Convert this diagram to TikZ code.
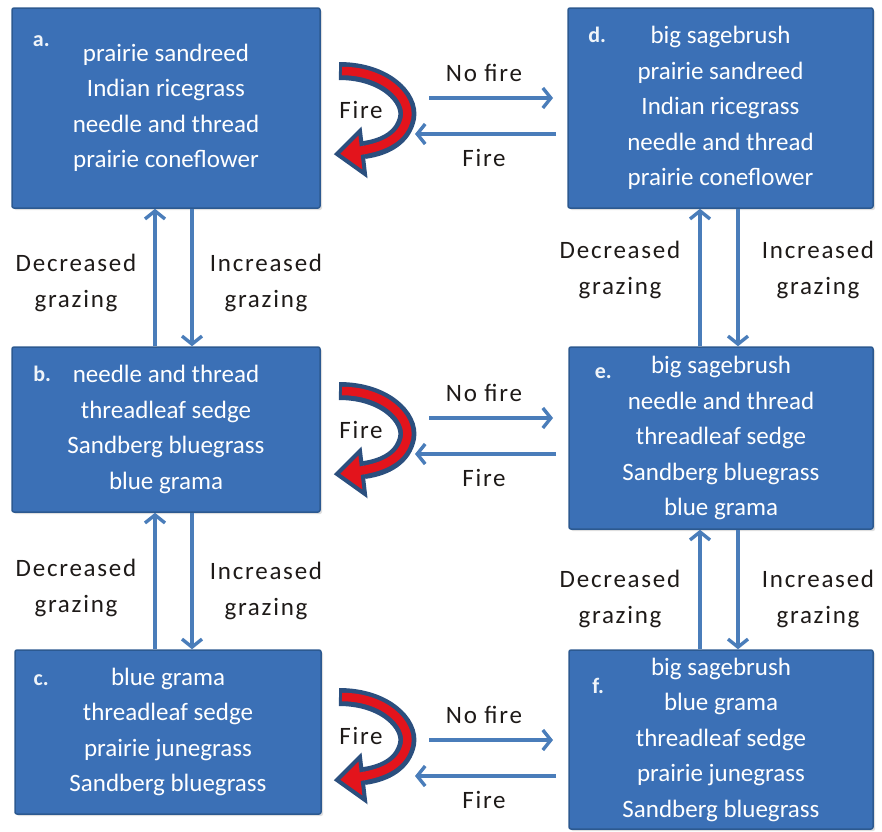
\documentclass[tikz,border=0pt]{standalone}
\usepackage{fontspec}
\setmainfont{Carlito}
\newfontfamily\lblfamily[LetterSpace=7]{Carlito}
\usetikzlibrary{arrows.meta,shadows}

\definecolor{boxblue}{HTML}{3B70B6}
\definecolor{boxedge}{HTML}{2C5990}
\definecolor{linkblue}{HTML}{4A7DBA}
\definecolor{labelink}{HTML}{1E1A18}
\definecolor{curvedark}{HTML}{2B4F7E}
\definecolor{curvered}{HTML}{E3141C}

\newcommand{\boxfont}{\fontsize{25}{35.5}\selectfont}
\newcommand{\tagfont}{\fontsize{22}{24}\selectfont\bfseries}
\newcommand{\lblfont}{\lblfamily\fontsize{25}{36}\selectfont}

\tikzset{
  statebox/.style={draw=boxedge, line width=1.5pt, fill=boxblue, text=white,
    align=center, inner sep=0pt, font=\boxfont, rounded corners=2pt,
    drop shadow={shadow xshift=2pt, shadow yshift=-2pt, opacity=0.25}},
  tag/.style={text=white!92!boxblue, font=\tagfont, inner sep=0pt},
  conn/.style={draw=linkblue, line width=3.4pt,
    -{Straight Barb[length=8pt,width=20pt]}},
  lbl/.style={text=labelink, align=center, font=\lblfont, inner sep=0pt},
}

\begin{document}
\begin{tikzpicture}[x=1pt,y=-1pt]
\useasboundingbox (0,0) rectangle (882,831);

% ---- state boxes ----
\node[statebox, minimum width=308pt, minimum height=200pt] (a) at (166,108)
  {prairie sandreed\\Indian ricegrass\\needle and thread\\prairie coneflower};
\node[statebox, minimum width=305pt, minimum height=200pt] (d) at (720.5,108)
  {big sagebrush\\prairie sandreed\\Indian ricegrass\\needle and thread\\prairie coneflower};
\node[statebox, minimum width=308pt, minimum height=165pt] (b) at (166,429.5)
  {needle and thread\\threadleaf sedge\\Sandberg bluegrass\\blue grama};
\node[statebox, minimum width=304pt, minimum height=182pt] (e) at (721,438)
  {big sagebrush\\needle and thread\\threadleaf sedge\\Sandberg bluegrass\\blue grama};
\node[statebox, minimum width=306pt, minimum height=164pt] (c) at (168,732)
  {blue grama\\threadleaf sedge\\prairie junegrass\\Sandberg bluegrass};
\node[statebox, minimum width=304pt, minimum height=179pt] (f) at (721,739.5)
  {big sagebrush\\blue grama\\threadleaf sedge\\prairie junegrass\\Sandberg bluegrass};

% ---- state letters ----
\node[tag] (ta) at ([shift={(30,34)}]a.north west) {a.};
\node[tag] (td) at ([shift={(30,28)}]d.north west) {d.};
\node[tag] (tb) at ([shift={(31,28)}]b.north west) {b.};
\node[tag] (te) at ([shift={(35,27)}]e.north west) {e.};
\node[tag] (tc) at ([shift={(27,31)}]c.north west) {c.};
\node[tag] (tf) at ([shift={(30,37)}]f.north west) {f.};

% ---- grazing transitions ----
\draw[conn] (b.north -| 155,0) -- (a.south -| 155,0);
\draw[conn] (a.south -| 192,0) -- (b.north -| 192,0);
\draw[conn] (c.north -| 155,0) -- (b.south -| 155,0);
\draw[conn] (b.south -| 192,0) -- (c.north -| 192,0);
\draw[conn] (e.north -| 700,0) -- (d.south -| 700,0);
\draw[conn] (d.south -| 738,0) -- (e.north -| 738,0);
\draw[conn] (f.north -| 700,0) -- (e.south -| 700,0);
\draw[conn] (e.south -| 738,0) -- (f.north -| 738,0);

\node[lbl] (dg1) at (76,283) {Decreased\\grazing};
\node[lbl] (ig1) at (266,283) {Increased\\grazing};
\node[lbl] (dg2) at (620,270) {Decreased\\grazing};
\node[lbl] (ig2) at (818,270) {Increased\\grazing};
\node[lbl] (dg3) at (76,588) {Decreased\\grazing};
\node[lbl] (ig3) at (266,591) {Increased\\grazing};
\node[lbl] (dg4) at (620,599) {Decreased\\grazing};
\node[lbl] (ig4) at (818,599) {Increased\\grazing};

% ---- fire transitions between columns ----
\foreach \row/\dy in {1/0, 2/320, 3/642} {
  \coordinate (nfs\row) at (429,98+\dy);
  \coordinate (nfe\row) at (553,98+\dy);
  \coordinate (fs\row)  at (556,134+\dy);
  \coordinate (fe\row)  at (415,134+\dy);
  \draw[conn] (nfs\row) -- (nfe\row);
  \draw[conn] (fs\row) -- (fe\row);
  \node[lbl] (nf\row) at (484,73+\dy) {No fire};
  \node[lbl] (fr\row) at (484,158+\dy) {Fire};
}

% ---- curved fire arrows beside the left column ----
\foreach \row/\dy in {1/0, 2/320, 3/626} {
  \begin{scope}[shift={(0,\dy)}]
    \draw[curvedark, line width=18pt]
      (339,71) .. controls (385,71) and (411,98) .. (407,118)
               .. controls (403,137) and (386,147) .. (364,150);
    \filldraw[fill=curvered, draw=curvedark, line width=4pt, line join=miter]
      (337,154) -- (360,131) -- (365,174) -- cycle;
    \draw[curvered, line width=8.5pt, shorten <=3pt]
      (339,71) .. controls (385,71) and (411,98) .. (407,118)
               .. controls (403,137) and (386,147) .. (358,151);
    \node[lbl] (fc\row) at (361,110) {Fire};
  \end{scope}
}
\end{tikzpicture}
\end{document}
